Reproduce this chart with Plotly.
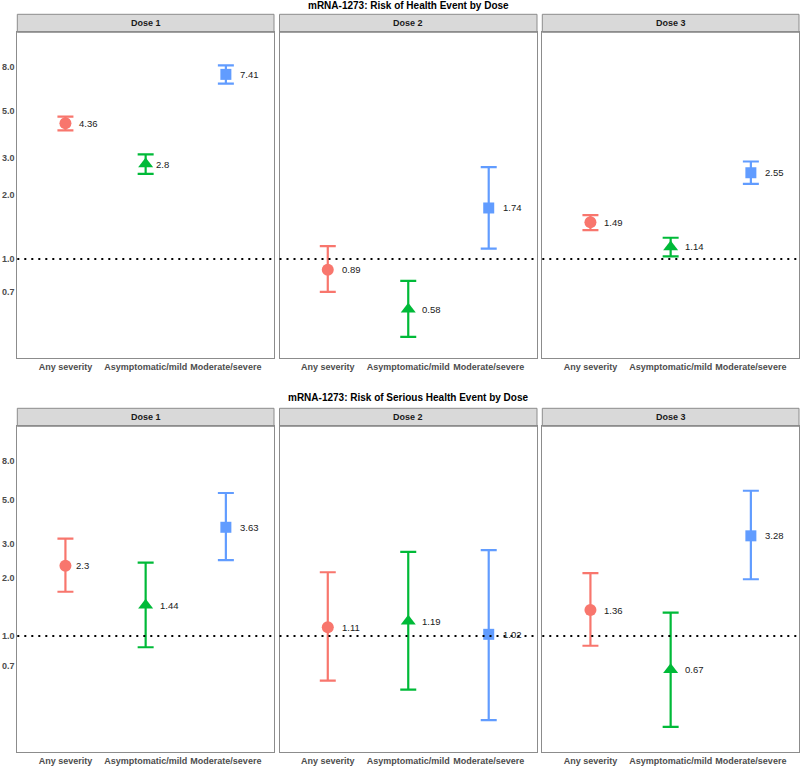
import math
import plotly.graph_objects as go

categories = ["Any severity", "Asymptomatic/mild", "Moderate/severe"]
doses = ["Dose 1", "Dose 2", "Dose 3"]
titles = ["mRNA-1273: Risk of Health Event by Dose",
          "mRNA-1273: Risk of Serious Health Event by Dose"]

# Row 1: Health event  (per dose: [any, asym, mod])
health_est = [[4.36, 2.80, 7.41], [0.89, 0.58, 1.74], [1.49, 1.14, 2.55]]
health_lo = [[4.04, 2.52, 6.70], [0.70, 0.43, 1.12], [1.37, 1.03, 2.26]]
health_hi = [[4.69, 3.11, 8.17], [1.15, 0.79, 2.71], [1.61, 1.26, 2.88]]

# Row 2: Serious health event
serious_est = [[2.30, 1.44, 3.63], [1.11, 1.19, 1.02], [1.36, 0.67, 3.28]]
serious_lo = [[1.69, 0.875, 2.46], [0.589, 0.529, 0.369], [0.891, 0.34, 1.96]]
serious_hi = [[3.17, 2.39, 5.45], [2.13, 2.71, 2.77], [2.11, 1.32, 5.60]]

ytick_vals = [0.7, 1.0, 2.0, 3.0, 5.0, 8.0]
ytick_text = ["0.7", "1.0", "2.0", "3.0", "5.0", "8.0"]

colors = ["#F8766D", "#00BA38", "#619CFF"]
symbols = ["circle", "triangle-up", "square"]
msizes = [12, 13, 11]

W, H = 800, 766
FONT = "Liberation Sans"

# pixel layout
xpanels = [(17.3, 274.0), (279.5, 537.0), (542.3, 799.0)]
rows = [
    dict(strip=(14.3, 32.3), plot=(32.3, 358.0), title_y=5.5, yrange=(-0.466, 1.068)),
    dict(strip=(408.3, 426.3), plot=(426.3, 752.3), title_y=397.0, yrange=(-0.599, 1.080)),
]
data_rows = [(health_est, health_lo, health_hi), (serious_est, serious_lo, serious_hi)]

fig = go.Figure()
layout = dict(width=W, height=H, margin=dict(l=0, r=0, t=0, b=0),
              paper_bgcolor="white", plot_bgcolor="white", showlegend=False,
              font=dict(family=FONT))
shapes, annotations = [], []

def py(p):
    return 1 - p / H

idx = 0
for r, row in enumerate(rows):
    est, lo, hi = data_rows[r]
    annotations.append(dict(text="<b>" + titles[r] + "</b>", x=(17.3 + 799) / 2 / W, y=py(row["title_y"]),
                            xref="paper", yref="paper", showarrow=False, yanchor="middle",
                            xanchor="center",
                            font=dict(size=10, color="black", family=FONT)))
    for c in range(3):
        idx += 1
        sfx = "" if idx == 1 else str(idx)
        x0, x1 = xpanels[c]
        layout["xaxis" + sfx] = dict(
            domain=[x0 / W, x1 / W], anchor="y" + sfx, range=[0.4, 3.6],
            tickvals=[1, 2, 3], ticktext=categories, showgrid=False, zeroline=False,
            showline=True, mirror=True, linecolor="#8C8C8C", linewidth=1, ticks="",
            tickfont=dict(size=9, color="#4D4D4D", family=FONT, weight="bold"))
        layout["yaxis" + sfx] = dict(
            domain=[py(row["plot"][1]), py(row["plot"][0])], anchor="x" + sfx, type="log",
            range=list(row["yrange"]), tickvals=ytick_vals, ticktext=ytick_text,
            showticklabels=(c == 0), showgrid=False, zeroline=False,
            showline=True, mirror=True, linecolor="#8C8C8C", linewidth=1, ticks="",
            tickfont=dict(size=9, color="#4D4D4D", family=FONT, weight="bold"))
        # strip
        shapes.append(dict(type="rect", xref="paper", yref="paper", x0=x0 / W, x1=x1 / W,
                           y0=py(row["strip"][1]), y1=py(row["strip"][0]),
                           fillcolor="#D9D9D9", line=dict(color="#8C8C8C", width=1), layer="below"))
        annotations.append(dict(text="<b>" + doses[c] + "</b>", x=(x0 + x1) / 2 / W,
                                y=py((row["strip"][0] + row["strip"][1]) / 2),
                                xref="paper", yref="paper", showarrow=False,
                                xanchor="center", yanchor="middle",
                                font=dict(size=9, color="#1A1A1A", family=FONT)))
        # reference line at 1
        shapes.append(dict(type="line", xref="x" + sfx + " domain", yref="y" + sfx,
                           x0=0, x1=1, y0=1, y1=1,
                           line=dict(color="black", width=2, dash="2px,5px"), layer="above"))
        for k in range(3):
            v = est[c][k]
            label = f"{v:g}"
            fig.add_trace(go.Scatter(
                x=[k + 1], y=[v], xaxis="x" + sfx, yaxis="y" + sfx,
                mode="markers",
                marker=dict(symbol=symbols[k], size=msizes[k], color=colors[k]),
                error_y=dict(type="data", symmetric=False, array=[hi[c][k] - v],
                             arrayminus=[v - lo[c][k]], color=colors[k], thickness=2.2, width=8),
                cliponaxis=False, hoverinfo="skip"))
            annotations.append(dict(text=label, x=k + 1, y=math.log10(v),
                                    xref="x" + sfx, yref="y" + sfx, showarrow=False,
                                    xanchor="left", yanchor="middle", xshift=3.5 * len(label) - 2,
                                    font=dict(size=9.5, color="#1A1A1A", family=FONT)))

layout["shapes"] = shapes
layout["annotations"] = annotations
fig.update_layout(**layout)
fig.write_html("out.html", config={"displayModeBar": False},
               post_script="document.body.style.margin='0';document.body.style.overflow='hidden';")
